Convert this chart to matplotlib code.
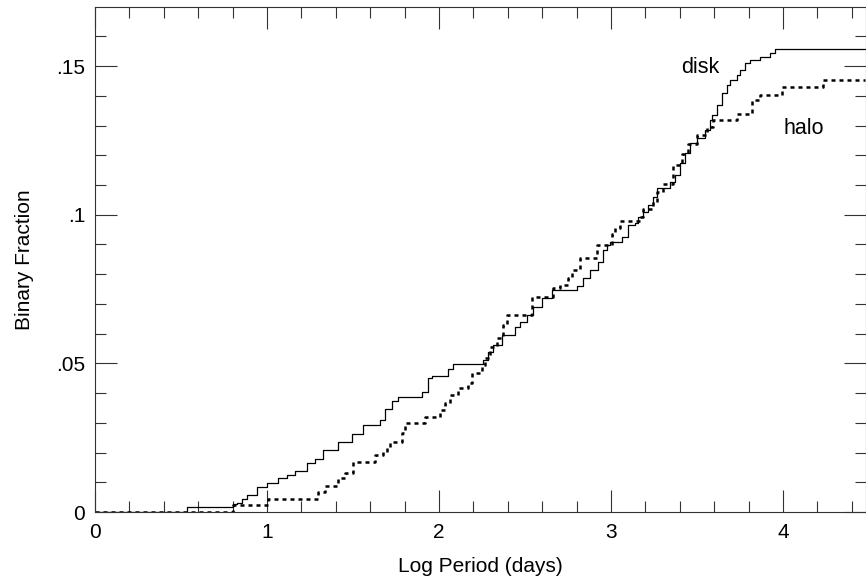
import matplotlib
matplotlib.use('Agg')
from matplotlib import pyplot as plt
from matplotlib.ticker import MultipleLocator

plt.rcParams['font.family'] = ['Liberation Sans', 'DejaVu Sans']

# disk: x where a step happens, y level after the step
disk_x = [0.0, 0.535, 0.802, 0.826, 0.855, 0.884, 0.942, 1.000, 1.064, 1.116,
          1.163, 1.233, 1.279, 1.326, 1.413, 1.494, 1.558, 1.657, 1.686, 1.727,
          1.762, 1.901, 1.936, 1.959, 2.052, 2.081, 2.256, 2.285, 2.314, 2.366,
          2.442, 2.471, 2.512, 2.547, 2.599, 2.657, 2.802, 2.837, 2.878, 2.924,
          2.953, 2.977, 2.994, 3.064, 3.099, 3.140, 3.157, 3.186, 3.215, 3.244,
          3.267, 3.343, 3.372, 3.401, 3.430, 3.459, 3.500, 3.547, 3.576, 3.587,
          3.616, 3.645, 3.674, 3.692, 3.733, 3.750, 3.779, 3.808, 3.866, 3.924,
          3.953, 4.48]
disk_y = [0.0, 0.0017, 0.0027, 0.0030, 0.0044, 0.0057, 0.0084, 0.0098, 0.0114, 0.0124,
          0.0138, 0.0165, 0.0178, 0.0209, 0.0235, 0.0262, 0.0293, 0.0310, 0.0346, 0.0373,
          0.0387, 0.0404, 0.0451, 0.0457, 0.0481, 0.0498, 0.0511, 0.0538, 0.0562, 0.0595,
          0.0622, 0.0639, 0.0663, 0.0690, 0.0720, 0.0747, 0.0760, 0.0787, 0.0814, 0.0841,
          0.0881, 0.0898, 0.0908, 0.0925, 0.0965, 0.0972, 0.0992, 0.1009, 0.1033, 0.1060,
          0.1090, 0.1110, 0.1133, 0.1174, 0.1207, 0.1241, 0.1258, 0.1285, 0.1318, 0.1335,
          0.1369, 0.1409, 0.1436, 0.1453, 0.1470, 0.1487, 0.1510, 0.1520, 0.1530, 0.1544,
          0.1557, 0.1557]

# halo
halo_x = [0.0, 0.802, 1.006, 1.297, 1.337, 1.413, 1.453, 1.500, 1.628, 1.674,
          1.698, 1.715, 1.785, 1.802, 1.919, 2.006, 2.035, 2.064, 2.110, 2.169,
          2.192, 2.238, 2.250, 2.267, 2.297, 2.337, 2.372, 2.395, 2.541, 2.663,
          2.703, 2.750, 2.773, 2.820, 2.919, 3.006, 3.023, 3.052, 3.169, 3.186,
          3.244, 3.267, 3.302, 3.360, 3.413, 3.448, 3.500, 3.558, 3.593, 3.733,
          3.820, 3.866, 3.994, 4.233, 4.48]
halo_y = [0.0, 0.0024, 0.0044, 0.0067, 0.0087, 0.0114, 0.0131, 0.0168, 0.0191, 0.0202,
          0.0215, 0.0235, 0.0266, 0.0299, 0.0320, 0.0343, 0.0367, 0.0394, 0.0417, 0.0434,
          0.0467, 0.0474, 0.0494, 0.0518, 0.0555, 0.0585, 0.0629, 0.0663, 0.0723, 0.0753,
          0.0763, 0.0787, 0.0814, 0.0854, 0.0898, 0.0935, 0.0955, 0.0979, 0.0992, 0.1019,
          0.1043, 0.1076, 0.1103, 0.1167, 0.1204, 0.1237, 0.1268, 0.1295, 0.1318, 0.1339,
          0.1386, 0.1403, 0.1430, 0.1453, 0.1453]

y_ticks = [0, 0.05, 0.1, 0.15]
y_ticklabels = ['0', '.05', '.1', '.15']
x_ticks = [0, 1, 2, 3, 4]

fig = plt.figure(figsize=(8.66, 5.77), dpi=100)
ax = fig.add_axes([95 / 866, 65 / 577, 771 / 866, 505 / 577])

ax.step(disk_x, disk_y, where='post', color='black', lw=0.9)
ax.step(halo_x, halo_y, where='post', color='black', lw=1.8, linestyle=(0, (1.6, 1.6)))

ax.text(3.52, 0.1497, 'disk', fontsize=15.5, ha='center', va='center')
ax.text(4.12, 0.129, 'halo', fontsize=15.5, ha='center', va='center')

ax.set_xlim(0, 4.483)
ax.set_ylim(0, 0.1699)
ax.set_xticks(x_ticks)
ax.set_yticks(y_ticks)
ax.set_yticklabels(y_ticklabels)
ax.xaxis.set_minor_locator(MultipleLocator(0.2))
ax.yaxis.set_minor_locator(MultipleLocator(0.01))

ax.tick_params(which='both', direction='in', top=True, right=True, labelsize=15, width=0.8, color='#333333')
ax.tick_params(which='major', length=16)
ax.tick_params(which='minor', length=8)
ax.tick_params(axis='y', pad=7)
ax.tick_params(axis='x', pad=8)
for s in ax.spines.values():
    s.set_linewidth(0.8)
    s.set_color('#333333')

ax.set_xlabel('Log Period (days)', fontsize=15, labelpad=11)
ax.set_ylabel('Binary Fraction', fontsize=15, labelpad=16)

fig.savefig('out.png', dpi=100)
